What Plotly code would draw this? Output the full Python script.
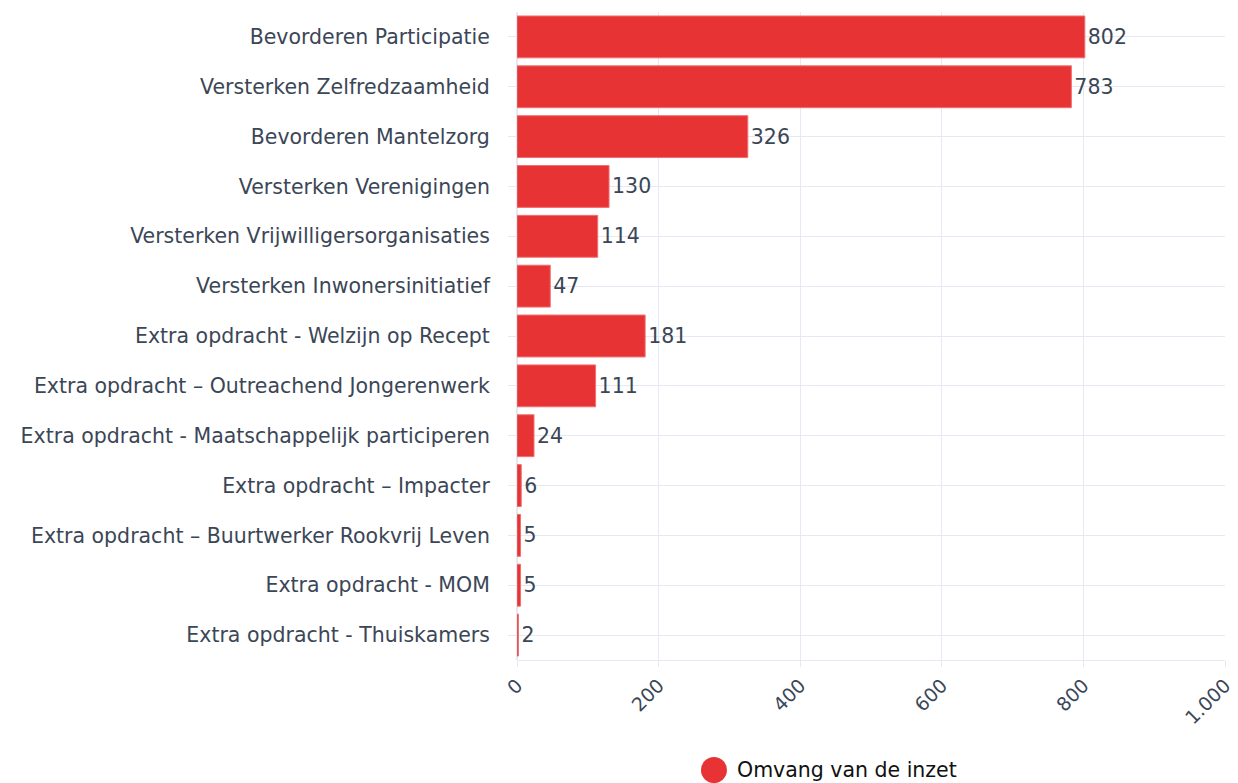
import plotly.graph_objects as go

categories = [
    "Bevorderen Participatie",
    "Versterken Zelfredzaamheid",
    "Bevorderen Mantelzorg",
    "Versterken Verenigingen",
    "Versterken Vrijwilligersorganisaties",
    "Versterken Inwonersinitiatief",
    "Extra opdracht - Welzijn op Recept",
    "Extra opdracht – Outreachend Jongerenwerk",
    "Extra opdracht - Maatschappelijk participeren",
    "Extra opdracht – Impacter",
    "Extra opdracht – Buurtwerker Rookvrij Leven",
    "Extra opdracht - MOM",
    "Extra opdracht - Thuiskamers",
]
values = [802, 783, 326, 130, 114, 47, 181, 111, 24, 6, 5, 5, 2]
series_name = "Omvang van de inzet"
x_ticks = [0, 200, 400, 600, 800, 1000]

RED = "#E83335"
FONT = "DejaVu Sans, sans-serif"
TXT = "#3b4656"
GRID = "#E6E9F4"

fig = go.Figure()
fig.add_trace(go.Bar(
    y=categories, x=values, orientation="h",
    marker=dict(color=RED, line=dict(color="#F07070", width=1)),
    text=values, textposition="outside", cliponaxis=False,
    textfont=dict(size=20.5, color=TXT, family=FONT),
    showlegend=False, name=series_name,
))

# legend (circle marker + label)
LEG_X, LEG_Y = 0.2782, -0.1698
fig.add_shape(type="circle", xref="paper", yref="paper",
              xsizemode="pixel", ysizemode="pixel",
              xanchor=LEG_X, yanchor=LEG_Y, x0=-13, x1=13, y0=-13, y1=13,
              fillcolor=RED, line=dict(width=0))
fig.add_annotation(x=0.308, y=LEG_Y, xref="paper", yref="paper",
                   text=series_name, showarrow=False, xanchor="left", yanchor="middle",
                   font=dict(size=20.5, color="#111111", family=FONT))

fig.update_layout(
    width=1230, height=775,
    template="plotly_white",
    separators=",.",
    margin=dict(l=509, r=13, t=4, b=123, autoexpand=False),
    font=dict(family=FONT, size=20.5, color=TXT),
    bargap=0.16,
    showlegend=False,
    xaxis=dict(range=[0, 1000], tickvals=x_ticks, tickangle=-45, separatethousands=True,
               tickfont=dict(size=19, color=TXT), automargin=False,
               gridcolor=GRID, showline=True, linecolor=GRID,
               zeroline=True, zerolinecolor=GRID,
               ticks="outside", ticklen=6, tickcolor=GRID),
    yaxis=dict(autorange="reversed", tickfont=dict(size=20.5, color=TXT), automargin=False,
               gridcolor=GRID, ticks="outside", ticklen=8, tickcolor=GRID,
               ticklabelstandoff=14),
)

fig.write_html("out.html")
